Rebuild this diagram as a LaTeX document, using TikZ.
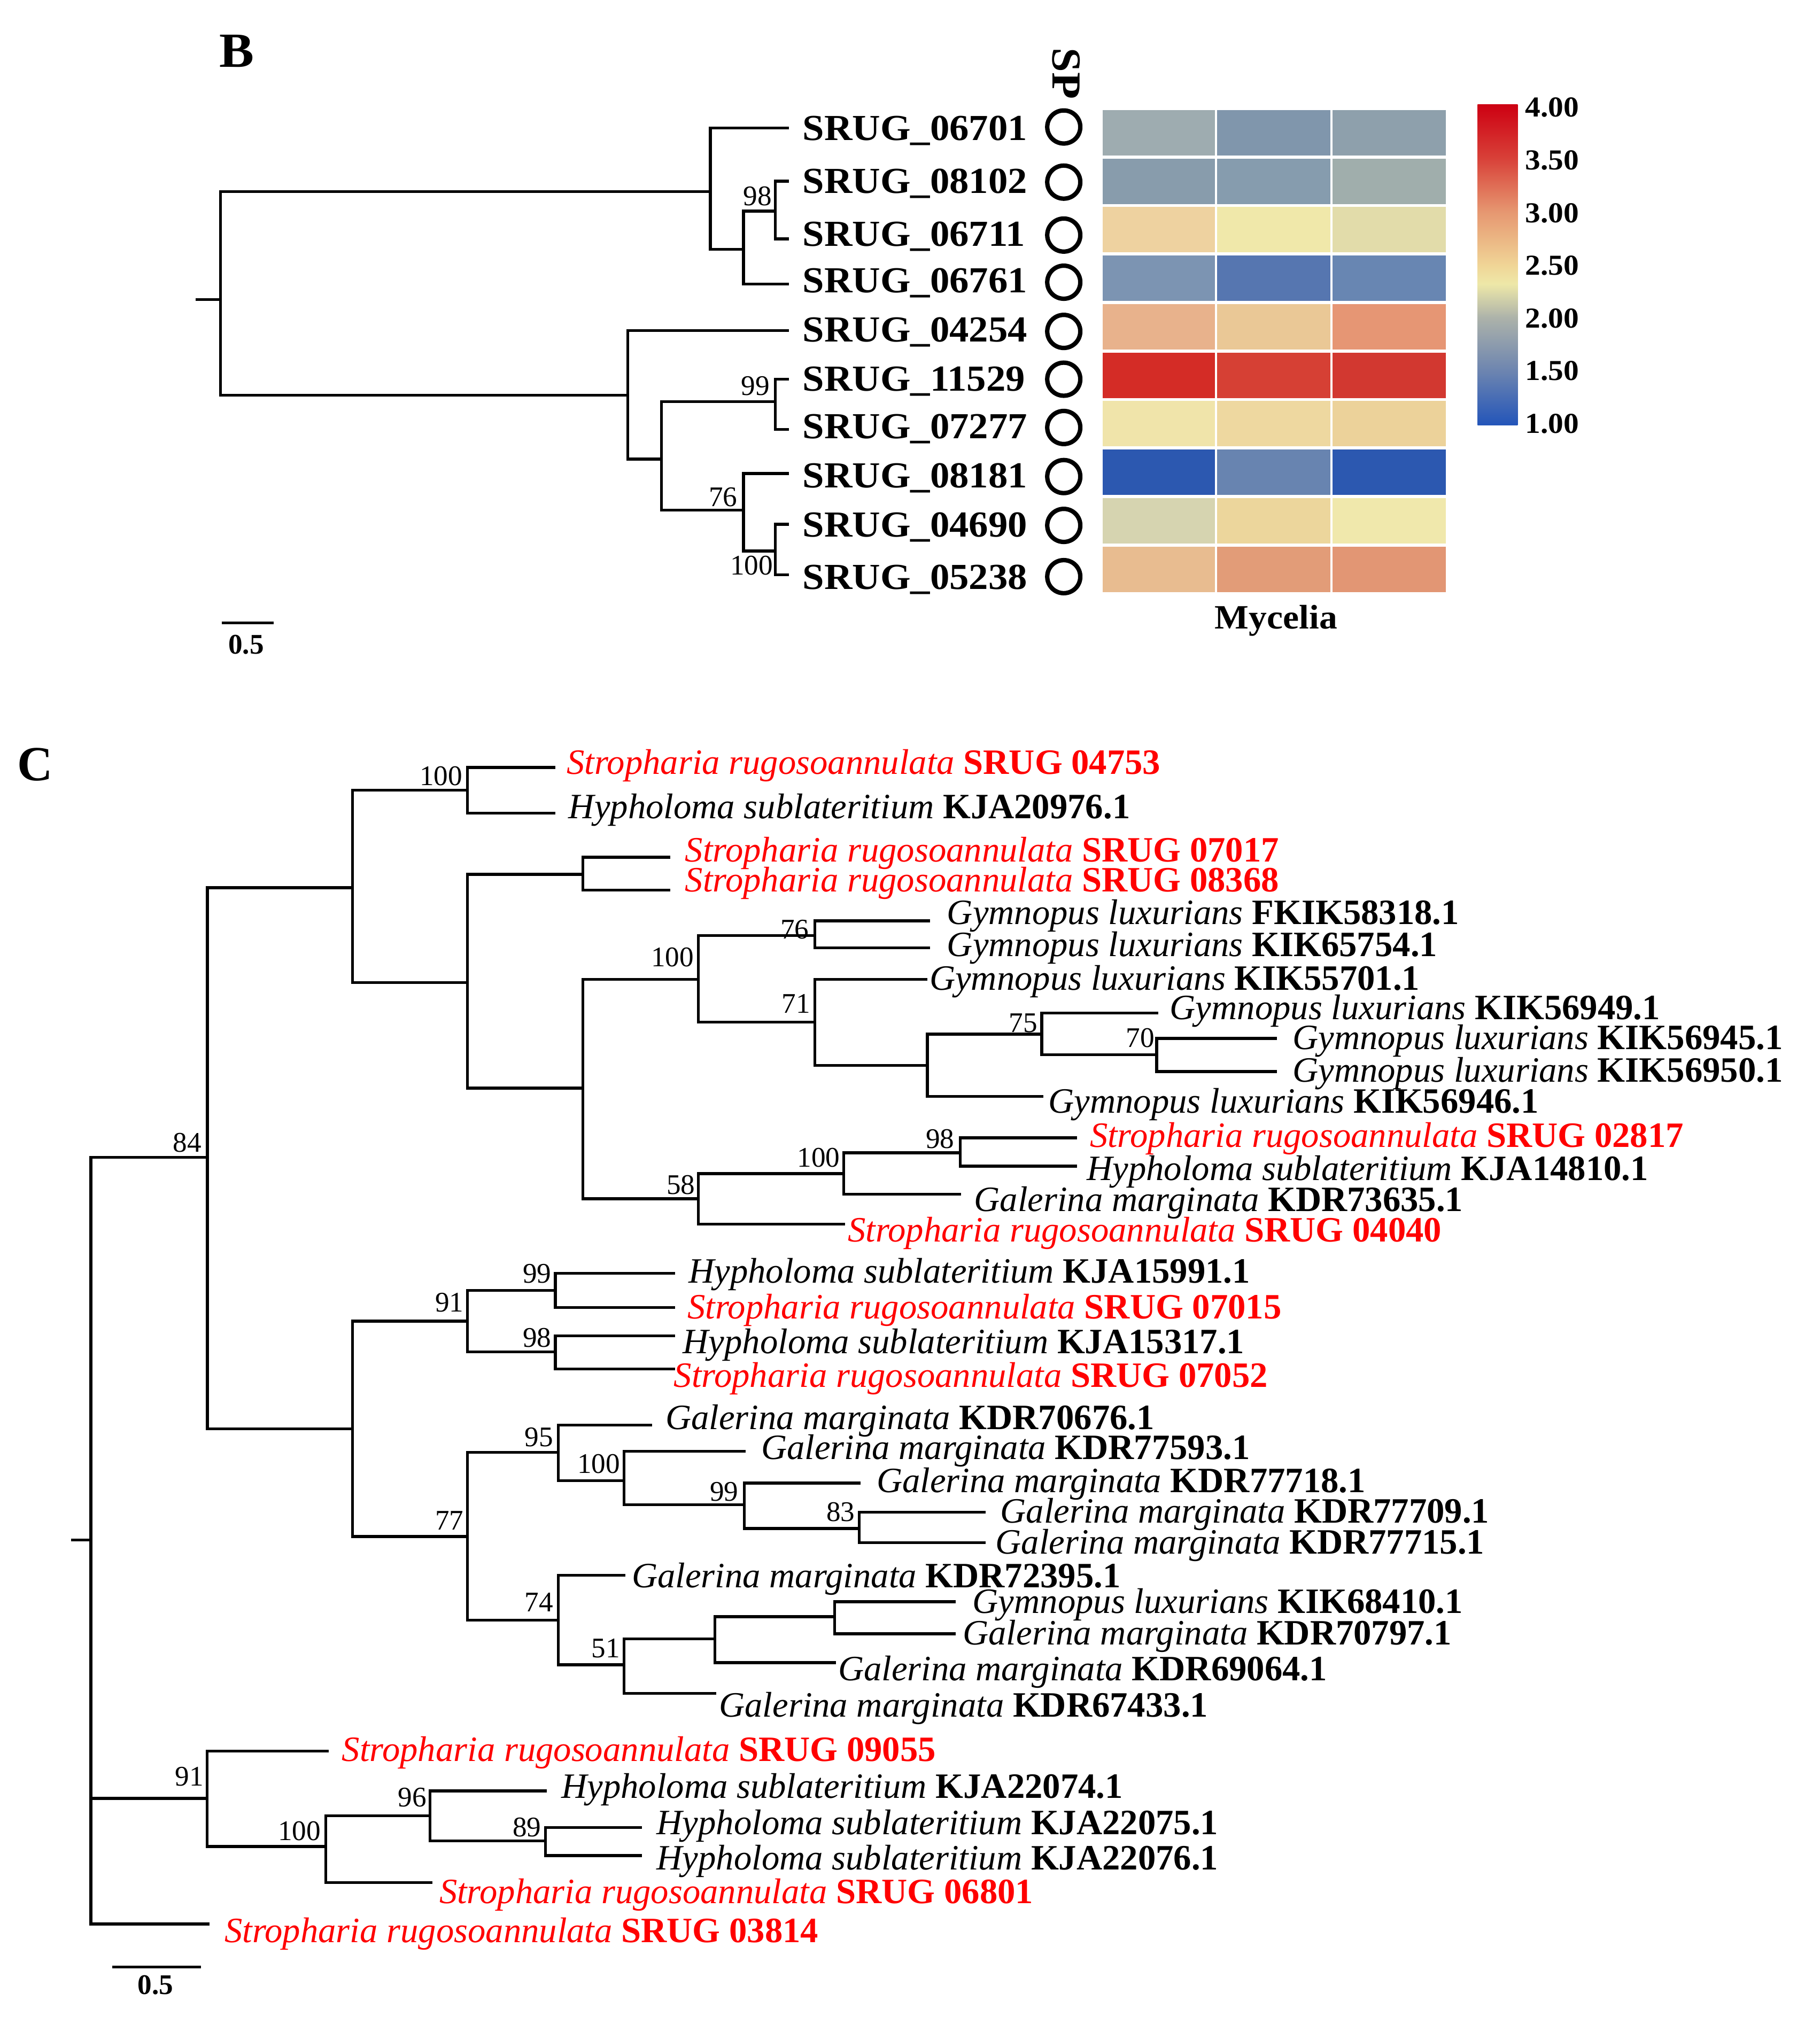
\documentclass[tikz,border=0pt]{standalone}
\usepackage{fontspec}
\setmainfont{Liberation Serif}
\newfontfamily\widefont[FakeStretch=1.06]{Liberation Serif}
\usetikzlibrary{positioning}

% colour bar of the heat map
\definecolor{cbA}{RGB}{35,85,185}
\definecolor{cbB}{RGB}{108,132,176}
\definecolor{cbC}{RGB}{172,178,170}
\definecolor{cbD}{RGB}{238,232,168}
\definecolor{cbE}{RGB}{240,212,150}
\definecolor{cbF}{RGB}{230,150,112}
\definecolor{cbG}{RGB}{216,64,56}
\definecolor{cbH}{RGB}{205,0,18}
\pgfdeclareverticalshading{expbar}{100bp}{color(0bp)=(cbA); color(25bp)=(cbA);
  color(33.35bp)=(cbB); color(41.65bp)=(cbC); color(47bp)=(cbD); color(50bp)=(cbE);
  color(58.35bp)=(cbF); color(66.65bp)=(cbG); color(75bp)=(cbH); color(100bp)=(cbH)}

\newcommand\srug[1]{\textit{Stropharia rugosoannulata} \textbf{SRUG #1}}
\newcommand\hsub[1]{\textit{Hypholoma sublateritium} \textbf{#1}}
\newcommand\gmar[1]{\textit{Galerina marginata} \textbf{#1}}
\newcommand\glux[1]{\textit{Gymnopus luxurians} \textbf{#1}}

\begin{document}
\begin{tikzpicture}[x=0.25pt, y=-0.25pt,
  branch/.style={line width=0.55pt, line cap=rect},
  tip/.style={anchor=base west, inner sep=0pt, yshift=-2.3pt, font=\fontsize{6.9}{8}\selectfont},
  boot/.style={anchor=base east, inner sep=0pt, yshift=-1.8pt, font=\fontsize{5.5}{6}\selectfont},
  gene/.style={anchor=base west, inner sep=0pt, yshift=-2.4pt, font=\widefont\bfseries\fontsize{7.1}{8}\selectfont},
  spmark/.style={circle, draw, line width=0.85pt, inner sep=0pt, minimum size=6.4pt},
  panel/.style={anchor=base, inner sep=0pt, yshift=-3.2pt, font=\bfseries\fontsize{9.5}{10}\selectfont},
  small/.style={anchor=base, inner sep=0pt, yshift=-1.9pt, font=\bfseries\fontsize{5.5}{6}\selectfont}]

  \useasboundingbox (0,0) rectangle (1409,1568);

  %%%%% panel B
  \node[panel, font=\widefont\bfseries\fontsize{9.5}{10}\selectfont] (labB) at (183.5,39) {B};

  \coordinate (bRs) at (152.7,232);  \coordinate (bR) at (170.7,232);
  \coordinate (bA) at (550,148.3);   \coordinate (bB) at (575.6,193);
  \coordinate (b98) at (600.4,163.5);
  \coordinate (bC) at (486,306);     \coordinate (bD) at (512,355.5);
  \coordinate (b99) at (600.4,311);  \coordinate (b76) at (575.6,395);
  \coordinate (b100) at (600.4,426.6);
  \foreach \y [count=\i] in {99,140.3,185,220,256,293.6,332.5,366.6,406,445}
    \coordinate (b\i) at (609.7,\y);

  \draw[branch] (bRs) -- (bR);
  \foreach \p/\c in {bR/bA, bR/bC, bA/b1, bA/bB, bB/b98, bB/b4, b98/b2, b98/b3,
      bC/b5, bC/bD, bD/b99, bD/b76, b99/b6, b99/b7, b76/b8, b76/b100, b100/b9, b100/b10}
    \draw[branch] (\p) |- (\c);

  \node[boot] (bsb1) at (598.3,152) {98};
  \node[boot] (bsb2) at (596.7,299) {99};
  \node[boot] (bsb3) at (571.7,385) {76};
  \node[boot] (bsb4) at (599.2,438) {100};

  \foreach \y/\t [count=\i] in {99/06701, 140/08102, 181/06711, 217/06761, 255/04254,
      293/11529, 330/07277, 368/08181, 406/04690, 446.5/05238}
    \node[gene] (g\i) at (620.6,\y) {SRUG\_\t};

  \foreach \y [count=\i] in {98.3,141,182,218.5,256.6,293.6,331,369,406.8,446.5}
    \node[spmark] (sp\i) at (823.6,\y) {};
  \node[rotate=-90, inner sep=0pt, font=\widefont\bfseries\fontsize{8}{9}\selectfont] (sp) at (825.5,57) {SP};

  % heat map, three samples per gene
  \foreach \i/\ca/\cb/\cc in {0/9EACB0/8096AC/8EA0AC, 1/889CAC/869CAE/A0AEAC,
      2/EED2A0/F0E8AA/E2DCAA, 3/7C94B2/5676B0/6886B2, 4/E8B28C/EAC896/E69674,
      5/D42C26/D64034/D23830, 6/F0E4AA/EED8A0/ECD29A, 7/2C58B0/6884B0/2C58B0,
      8/D6D4B0/ECD69C/F0E8AC, 9/E8BC90/E29C78/E29674}{
    \definecolor{hA}{HTML}{\ca}\definecolor{hB}{HTML}{\cb}\definecolor{hC}{HTML}{\cc}
    \fill[hA] (853.7,84+37.55*\i+1.2) rectangle (940.7,84+37.55*\i+36.35);
    \fill[hB] (942.1,84+37.55*\i+1.2) rectangle (1030.1,84+37.55*\i+36.35);
    \fill[hC] (1031.5,84+37.55*\i+1.2) rectangle (1119.5,84+37.55*\i+36.35);
  }
  \node[anchor=base, inner sep=0pt, yshift=-2.2pt, font=\widefont\bfseries\fontsize{6.6}{8}\selectfont] (myc) at (988,478.2) {Mycelia};

  \shade[shading=expbar] (1144,80.7) rectangle (1175,329);
  \foreach \v [count=\k from 0] in {4.00,3.50,3.00,2.50,2.00,1.50,1.00}
    \node[anchor=base west, inner sep=0pt, yshift=-1.9pt, font=\widefont\bfseries\fontsize{5.6}{6}\selectfont] (cb\k) at (1180,83+40.8*\k) {\v};

  \coordinate (sbBa) at (171.6,482.3); \coordinate (sbBb) at (212,482.3);
  \draw[branch, line cap=butt] (sbBa) -- (sbBb);
  \node[small] (sbB) at (190.6,498.6) {0.5};

  %%%%% panel C
  \node[panel] (labC) at (27.3,591.6) {C};

  \coordinate (rCs) at (56,1192.4);   \coordinate (rC) at (70.3,1192.4);
  \coordinate (n84) at (160.6,896);   \coordinate (nU) at (273,687.4);
  \coordinate (n100a) at (362,611.7); \coordinate (nX) at (362,760.8);
  \coordinate (nY) at (451.3,677);    \coordinate (nZ) at (451.3,842.5);
  \coordinate (n100b) at (540.7,758.4);
  \coordinate (n76) at (631,724.4);   \coordinate (n71) at (631,791.4);
  \coordinate (nG) at (718,825);      \coordinate (n75) at (806.5,800.7);
  \coordinate (n70) at (895.5,816.7);
  \coordinate (n58) at (540.7,928.2); \coordinate (n100c) at (653.2,908.7);
  \coordinate (n98a) at (743.5,892.6);
  \coordinate (nL) at (273,1106.4);   \coordinate (n91a) at (362,1023);
  \coordinate (n99a) at (430,999.3);  \coordinate (n98b) at (430,1046.8);
  \coordinate (n77) at (362,1189.7);  \coordinate (n95) at (432.3,1124.6);
  \coordinate (n100d) at (483.2,1146.5);
  \coordinate (n99b) at (576.3,1165); \coordinate (n83) at (665.1,1183.5);
  \coordinate (n74) at (432.3,1254.5);\coordinate (n51) at (483.2,1289);
  \coordinate (nK) at (553.5,1269);   \coordinate (nJ) at (646.1,1251.8);
  \coordinate (n91b) at (160.3,1392.5);
  \coordinate (n100e) at (252.3,1429.7);
  \coordinate (n96) at (333,1406);    \coordinate (n89) at (422.2,1425.5);

  % branch tips
  \foreach \x/\y [count=\i] in {429/594.2, 429/629.5, 517.8/663.7, 517.8/689.3,
      719/713, 719/734, 717/758.4, 895.5/784.3, 987.5/804, 987.5/829.7,
      806.5/849, 832.6/881, 832.6/903, 743/924.6, 653.2/947.9,
      521.7/986, 521.7/1012.5, 521.7/1034.4, 521.7/1060,
      503.6/1103.5, 576.3/1123.8, 665.1/1148.4, 762.2/1170.8, 762.2/1194.5,
      483.2/1219.6, 738.8/1240.2, 738.8/1265, 646.1/1287.4, 553.5/1311.2,
      253.3/1356, 422.2/1386.7, 496/1415, 496/1436.8, 333.6/1457.8, 161/1489.7}
    \coordinate (t\i) at (\x,\y);

  \draw[branch] (rCs) -- (rC);
  \foreach \p/\c in {rC/n84, rC/n91b, rC/t35, n84/nU, n84/nL, nU/n100a, nU/nX,
      n100a/t1, n100a/t2, nX/nY, nX/nZ, nY/t3, nY/t4, nZ/n100b, nZ/n58,
      n100b/n76, n100b/n71, n76/t5, n76/t6, n71/t7, n71/nG, nG/n75, nG/t11,
      n75/t8, n75/n70, n70/t9, n70/t10, n58/n100c, n58/t15, n100c/n98a, n100c/t14,
      n98a/t12, n98a/t13, nL/n91a, nL/n77, n91a/n99a, n91a/n98b, n99a/t16, n99a/t17,
      n98b/t18, n98b/t19, n77/n95, n77/n74, n95/t20, n95/n100d, n100d/t21, n100d/n99b,
      n99b/t22, n99b/n83, n83/t23, n83/t24, n74/t25, n74/n51, n51/nK, n51/t29,
      nK/nJ, nK/t28, nJ/t26, nJ/t27, n91b/t30, n91b/n100e, n100e/n96, n100e/t34,
      n96/t31, n96/n89, n89/t32, n89/t33}
    \draw[branch] (\p) |- (\c);

  % taxon names
  \foreach \x/\y/\t/\c [count=\i] in {
      438/590.3/\srug{04753}/red, 439.5/624.6/\hsub{KJA20976.1}/black,
      529.7/658.1/\srug{07017}/red, 529.7/681.3/\srug{08368}/red,
      732.5/706.6/\glux{FKIK58318.1}/black, 732.5/731.5/\glux{KIK65754.1}/black,
      718.9/757.6/\glux{KIK55701.1}/black, 905/780/\glux{KIK56949.1}/black,
      1000/803.2/\glux{KIK56945.1}/black, 1000/828.6/\glux{KIK56950.1}/black,
      811/852.6/\glux{KIK56946.1}/black, 843/879/\srug{02817}/red,
      840.7/904.8/\hsub{KJA14810.1}/black, 753.5/928.9/\gmar{KDR73635.1}/black,
      655.6/952.3/\srug{04040}/red, 532.4/984/\hsub{KJA15991.1}/black,
      531.6/1012/\srug{07015}/red, 528/1039/\hsub{KJA15317.1}/black,
      521/1064.7/\srug{07052}/red, 514.5/1097.5/\gmar{KDR70676.1}/black,
      588.5/1120.7/\gmar{KDR77593.1}/black, 678/1146.3/\gmar{KDR77718.1}/black,
      773.8/1170/\gmar{KDR77709.1}/black, 770/1193.8/\gmar{KDR77715.1}/black,
      488.4/1220/\gmar{KDR72395.1}/black, 752.3/1240/\glux{KIK68410.1}/black,
      744.7/1264.5/\gmar{KDR70797.1}/black, 648.2/1292/\gmar{KDR69064.1}/black,
      556/1320/\gmar{KDR67433.1}/black, 264/1354.6/\srug{09055}/red,
      433.9/1383.2/\hsub{KJA22074.1}/black, 507.7/1411.3/\hsub{KJA22075.1}/black,
      507.7/1438.6/\hsub{KJA22076.1}/black, 339.4/1464.6/\srug{06801}/red,
      173.1/1495/\srug{03814}/red}
    \node[tip, text=\c] (lab\i) at (\x,\y) {\t};

  % bootstrap values
  \foreach \x/\y/\v [count=\i] in {358.7/601/100, 627/719.5/76, 538/741/100,
      628/777/71, 156.8/884.7/84, 739.7/881.8/98, 651/896.4/100, 539/917.5/58,
      804/792/75, 894.5/803.6/70, 427.6/986/99, 359.7/1008.6/91, 427.6/1036/98,
      429/1112.7/95, 480.8/1133.3/100, 572.5/1155/99, 662.7/1170.7/83,
      359.7/1177.3/77, 429/1240.6/74, 480.8/1276.3/51, 158.3/1375.5/91,
      249/1418/100, 331/1391.9/96, 419.7/1414.8/89}
    \node[boot] (bsc\i) at (\x,\y) {\v};

  \coordinate (sbCa) at (87,1523.2); \coordinate (sbCb) at (155.7,1523.2);
  \draw[branch, line cap=butt] (sbCa) -- (sbCb);
  \node[small] (sbC) at (120.3,1536.5) {0.5};
\end{tikzpicture}
\end{document}
